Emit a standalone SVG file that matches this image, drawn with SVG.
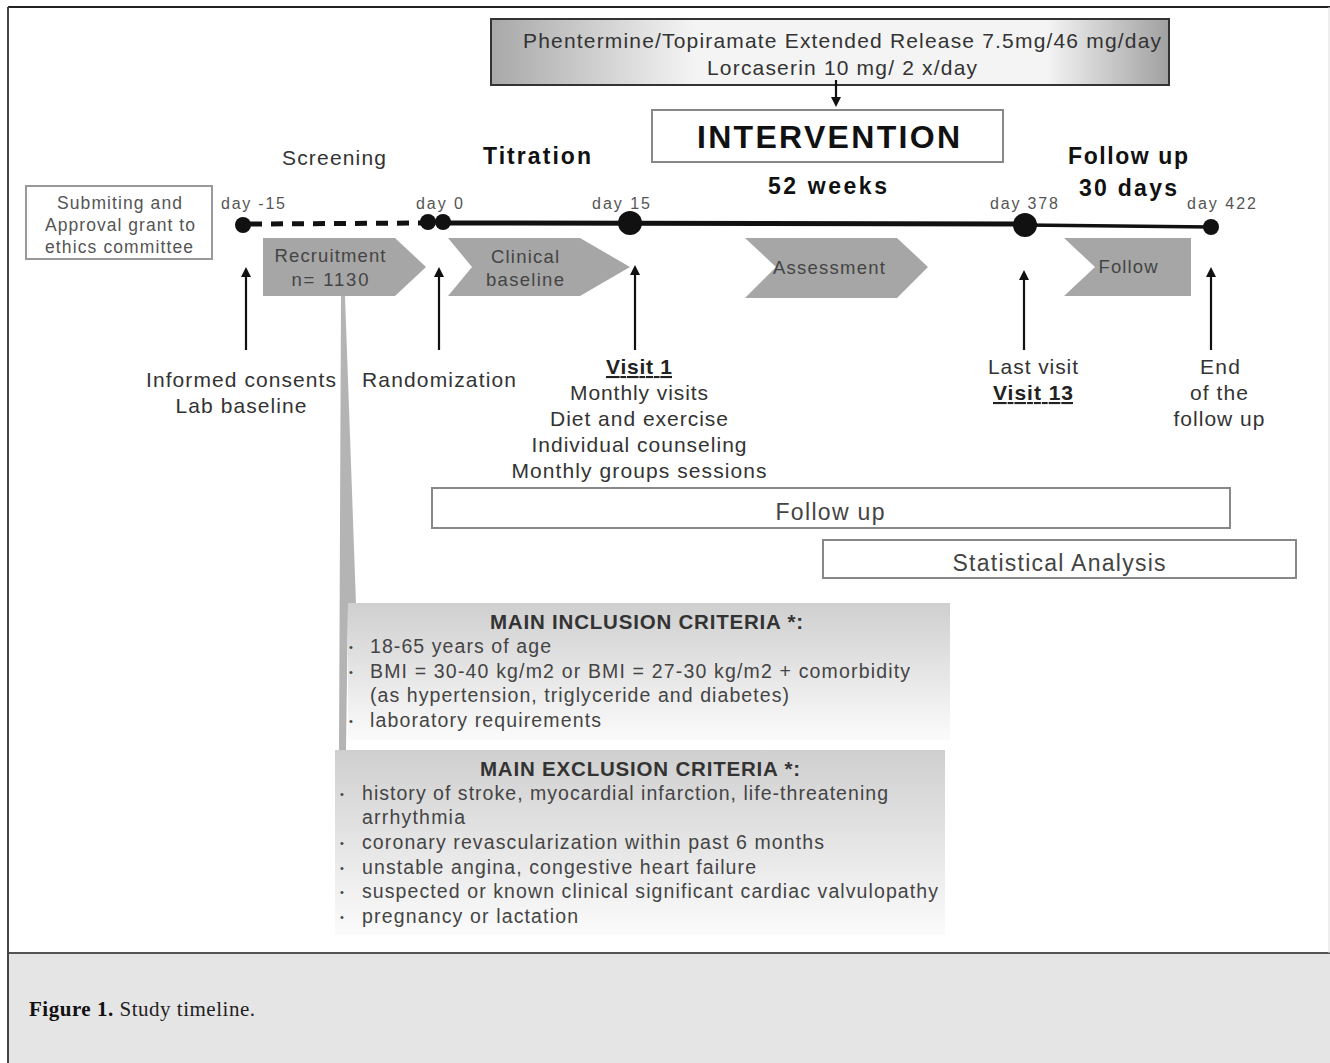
<svg xmlns="http://www.w3.org/2000/svg" width="1330" height="1063" viewBox="0 0 1330 1063">
<defs>
<linearGradient id="gDrug" x1="0" y1="0" x2="1" y2="0">
<stop offset="0" stop-color="#a8a8a8"/><stop offset="0.3" stop-color="#f4f4f4"/><stop offset="0.82" stop-color="#f4f4f4"/><stop offset="1" stop-color="#a0a0a0"/>
</linearGradient>
<linearGradient id="gBox" x1="0" y1="0" x2="0" y2="1">
<stop offset="0" stop-color="#cfcfcf"/><stop offset="1" stop-color="#fbfbfb"/>
</linearGradient>
<marker id="ah" viewBox="0 0 10 10" refX="5" refY="5" markerWidth="10" markerHeight="10" markerUnits="userSpaceOnUse" orient="auto">
<path d="M0,0 L10,5 L0,10 z" fill="#111"/>
</marker>
<style>
text{font-family:"Liberation Sans",Arial,sans-serif;fill:#333}
.c{text-anchor:middle}
.b{font-weight:bold;fill:#111}
.day{font-size:16px;fill:#555}
.lab{font-size:21px}
.chev{fill:#a6a6a6}
.ct{font-size:18.5px;fill:#444;text-anchor:middle}
.crit{font-size:19.5px;fill:#444}
.bul{font-size:11px;fill:#444}
.conn{stroke:#111;stroke-width:2.2;fill:none}
</style>
</defs>
<rect x="0" y="0" width="1330" height="1063" fill="#fff"/>
<rect x="8" y="954" width="1322" height="109" fill="#e6e5e6"/>
<line x1="8" y1="953" x2="1330" y2="953" stroke="#555" stroke-width="2"/>
<line x1="8" y1="7" x2="1330" y2="7" stroke="#222" stroke-width="2"/>
<line x1="8" y1="7" x2="8" y2="1063" stroke="#444" stroke-width="2"/>
<line x1="1329" y1="7" x2="1329" y2="953" stroke="#ddd" stroke-width="1"/>

<g id="drug">
<rect x="491" y="19" width="678" height="66" fill="url(#gDrug)" stroke="#333" stroke-width="2"/>
<text x="523" y="48" font-size="21" textLength="638">Phentermine/Topiramate Extended Release 7.5mg/46 mg/day</text>
<text x="707" y="75" font-size="21" textLength="270">Lorcaserin 10 mg/ 2 x/day</text>
</g>
<g id="intervention">
<rect x="652" y="110" width="351" height="52" fill="#fff" stroke="#888" stroke-width="2"/>
<text class="b" x="697" y="148" font-size="32" textLength="263">INTERVENTION</text>
</g>
<g id="phases">
<text x="282" y="165" font-size="21" textLength="104">Screening</text>
<text class="b" x="483" y="164" font-size="23" textLength="108">Titration</text>
<text class="b" x="768" y="194" font-size="23" textLength="119">52 weeks</text>
<text class="b" x="1068" y="164" font-size="23" textLength="120">Follow up</text>
<text class="b" x="1079" y="196" font-size="23" textLength="98">30 days</text>
</g>
<g id="ethics">
<rect x="26" y="186" width="186" height="73" fill="#fff" stroke="#999" stroke-width="2"/>
<text x="57" y="209" font-size="17.5" style="fill:#555" textLength="125">Submiting and</text>
<text x="45" y="231" font-size="17.5" style="fill:#555" textLength="150">Approval grant to</text>
<text x="45" y="253" font-size="17.5" style="fill:#555" textLength="148">ethics committee</text>
</g>
<g id="days">
<text class="day" x="221" y="209" textLength="64">day -15</text>
<text class="day" x="416" y="209" textLength="47">day 0</text>
<text class="day" x="592" y="209" textLength="58">day 15</text>
<text class="day" x="990" y="209" textLength="68">day 378</text>
<text class="day" x="1187" y="209" textLength="69">day 422</text>
</g>
<g id="connectors">
<line x1="250" y1="224" x2="422" y2="223" stroke="#111" stroke-width="5" stroke-dasharray="12,9"/>
<line x1="443" y1="223" x2="1025" y2="224" stroke="#111" stroke-width="5"/>
<line x1="1025" y1="225" x2="1211" y2="227" stroke="#111" stroke-width="3.5"/>
<line class="conn" x1="836" y1="80" x2="836" y2="102" marker-end="url(#ah)"/>
<line class="conn" x1="246" y1="350" x2="246" y2="272" marker-end="url(#ah)"/>
<line class="conn" x1="439" y1="350" x2="439" y2="272" marker-end="url(#ah)"/>
<line class="conn" x1="635" y1="350" x2="635" y2="270" marker-end="url(#ah)"/>
<line class="conn" x1="1024" y1="350" x2="1024" y2="275" marker-end="url(#ah)"/>
<line class="conn" x1="1211" y1="350" x2="1211" y2="272" marker-end="url(#ah)"/>
<polygon points="341,296 345,296 356,604 348,604 346,750 339,750" fill="#b4b4b4"/>
</g>
<g id="dots" fill="#111">
<circle cx="243" cy="225" r="8"/>
<circle cx="428" cy="222" r="8"/>
<circle cx="443" cy="222" r="8"/>
<circle cx="630" cy="223" r="12"/>
<circle cx="1025" cy="225" r="12"/>
<circle cx="1211" cy="227" r="8"/>
</g>
<g id="recruitment">
<polygon class="chev" points="263,238 395,238 426,267 395,296 263,296"/>
<text class="ct" x="330" y="262" textLength="111">Recruitment</text>
<text class="ct" x="330" y="286" textLength="77">n= 1130</text>
</g>
<g id="clinical">
<polygon class="chev" points="448,238 580,238 630,267 580,296 448,296 472,267"/>
<text class="ct" x="525" y="263" textLength="68">Clinical</text>
<text class="ct" x="525" y="286" textLength="78">baseline</text>
</g>
<g id="assessment">
<polygon class="chev" points="745,238 897,238 928,267 897,298 745,298 776,267"/>
<text class="ct" x="829" y="274" textLength="112">Assessment</text>
</g>
<g id="follow">
<polygon class="chev" points="1064,238 1191,238 1191,296 1064,296 1095,267"/>
<text class="ct" x="1128" y="273" textLength="59">Follow</text>
</g>
<g id="labels">
<text class="c lab" x="241" y="387" textLength="190">Informed consents</text>
<text class="c lab" x="241" y="413" textLength="131">Lab baseline</text>
<text class="c lab" x="439" y="387" textLength="154">Randomization</text>
<text class="c lab b" x="639" y="374" text-decoration="underline" style="fill:#222" textLength="66">Visit 1</text>
<text class="c lab" x="639" y="400" textLength="138">Monthly visits</text>
<text class="c lab" x="639" y="426" textLength="178">Diet and exercise</text>
<text class="c lab" x="639" y="452" textLength="215">Individual counseling</text>
<text class="c lab" x="639" y="478" textLength="255">Monthly groups sessions</text>
<text class="c lab" x="1033" y="374" textLength="90">Last visit</text>
<text class="c lab b" x="1033" y="400" text-decoration="underline" style="fill:#222" textLength="80">Visit 13</text>
<text class="c lab" x="1220" y="374" textLength="40">End</text>
<text class="c lab" x="1219" y="400" textLength="58">of the</text>
<text class="c lab" x="1219" y="426" textLength="91">follow up</text>
</g>
<g id="followup-box">
<rect x="432" y="488" width="798" height="40" fill="#fff" stroke="#888" stroke-width="2"/>
<text class="c" x="830" y="520" font-size="23" style="fill:#444" textLength="109">Follow up</text>
</g>
<g id="stat-box">
<rect x="823" y="540" width="473" height="38" fill="#fff" stroke="#888" stroke-width="2"/>
<text class="c" x="1059" y="571" font-size="23" style="fill:#444" textLength="213">Statistical Analysis</text>
</g>
<g id="inclusion">
<rect x="348" y="603" width="602" height="137" fill="url(#gBox)"/>
<text class="crit b" x="490" y="629" style="fill:#333;font-size:20.5px" textLength="313">MAIN INCLUSION CRITERIA *:</text>
<text class="bul" x="349" y="651">•</text><text class="crit" x="370" y="653" textLength="181">18-65 years of age</text>
<text class="bul" x="349" y="676">•</text><text class="crit" x="370" y="678" textLength="540">BMI = 30-40 kg/m2 or BMI = 27-30 kg/m2 + comorbidity</text>
<text class="crit" x="370" y="702" textLength="419">(as hypertension, triglyceride and diabetes)</text>
<text class="bul" x="349" y="725">•</text><text class="crit" x="370" y="727" textLength="231">laboratory requirements</text>
</g>
<g id="exclusion">
<rect x="335" y="750" width="610" height="185" fill="url(#gBox)"/>
<text class="crit b" x="480" y="776" style="fill:#333;font-size:20.5px" textLength="320">MAIN EXCLUSION CRITERIA *:</text>
<text class="bul" x="340" y="798">•</text><text class="crit" x="362" y="800" textLength="526">history of stroke, myocardial infarction, life-threatening</text>
<text class="crit" x="362" y="824" textLength="103">arrhythmia</text>
<text class="bul" x="340" y="847">•</text><text class="crit" x="362" y="849" textLength="462">coronary revascularization within past 6 months</text>
<text class="bul" x="340" y="872">•</text><text class="crit" x="362" y="874" textLength="394">unstable angina, congestive heart failure</text>
<text class="bul" x="340" y="896">•</text><text class="crit" x="362" y="898" textLength="576">suspected or known clinical significant cardiac valvulopathy</text>
<text class="bul" x="340" y="921">•</text><text class="crit" x="362" y="923" textLength="216">pregnancy or lactation</text>
</g>
<g id="caption">
<text x="29" y="1016" font-size="21" style="font-family:'Liberation Serif','Times New Roman',serif;fill:#222" textLength="226"><tspan font-weight="bold" style="fill:#111">Figure 1.</tspan> Study timeline.</text>
</g>
</svg>
